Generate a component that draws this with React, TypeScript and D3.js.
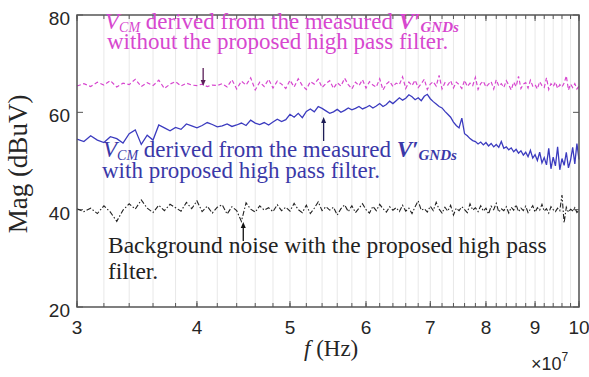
import * as d3 from 'd3'

// frequency axis in units of 1e7 Hz, samples every 0.05e7
const F_START = 3
const F_STEP = 0.05
const xTicks = [3, 4, 5, 6, 7, 8, 9, 10]
const yTicks = [20, 40, 60, 80]

// V_CM with the proposed high pass filter (blue, solid)
const withFilter = [
  54.5, 54.0, 55.2, 54.3, 53.8, 55.0, 54.6, 53.7, 55.6, 56.4,
  53.4, 55.3, 54.3, 57.4, 56.8, 56.2, 56.9, 56.5, 57.6, 57.2,
  56.8, 57.3, 57.9, 57.5, 57.0, 57.2, 57.6, 57.1, 57.4, 57.8,
  57.3, 58.4, 57.8, 57.5, 57.9, 57.4, 58.0, 58.6, 58.1, 58.5,
  59.6, 59.0, 59.8, 58.9, 60.2, 60.7, 60.1, 61.2, 60.8, 60.3,
  59.8, 60.1, 60.6, 60.0, 60.4, 60.9, 60.5, 60.8, 61.2, 60.7,
  61.0, 61.4, 60.9, 61.3, 61.8, 61.2, 61.6, 62.3, 61.8, 62.4,
  63.0, 62.5, 62.9, 63.6, 63.2, 62.6, 63.0, 62.4, 63.3, 63.7,
  62.8, 62.2, 61.7, 61.2, 60.9, 60.2, 59.6, 59.0, 58.0, 57.3,
  56.8, 58.8, 55.6, 55.2, 54.6, 54.2, 54.0, 53.5, 53.9, 53.3,
  53.8, 53.1, 53.6, 52.9, 53.4, 52.8, 54.0, 52.6, 52.9, 52.3,
  52.7, 51.9, 52.4, 51.6, 52.1, 51.2, 51.8, 50.9, 52.2, 50.6,
  51.3, 50.1, 51.8, 49.6, 50.7, 49.2, 52.6, 48.4, 50.8, 49.0,
  52.9, 48.2, 50.5, 49.1, 51.8, 48.6, 50.2, 52.8, 49.4, 53.6,
  50.3,
]

// V_CM without the filter (magenta, dashed)
const withoutFilter = [
  65.4, 65.9, 65.3, 66.2, 65.6, 66.5, 65.2, 66.0, 65.7, 66.8,
  65.3, 66.1, 65.5, 66.6, 64.9, 65.8, 66.3, 65.4, 66.0, 65.6,
  65.5, 65.8, 65.3, 65.6, 65.5, 65.9, 65.2, 66.7, 64.8, 66.4,
  65.6, 67.1, 64.6, 66.2, 65.3, 66.8, 65.0, 66.4, 65.8, 64.9,
  66.6, 65.2, 66.9, 65.5, 64.7, 66.3, 65.8, 66.8, 65.1, 65.9,
  66.5, 64.9, 66.1, 65.4, 67.0, 65.7, 64.8, 66.2, 65.5, 66.7,
  65.0, 66.3, 65.6, 65.2, 66.9, 64.6, 65.8, 66.4, 65.3, 66.0,
  65.7, 67.3, 64.9, 66.2, 65.5, 66.6, 65.1, 65.9, 66.8, 64.7,
  65.8, 66.3, 65.4, 67.6, 64.8, 66.1, 65.6, 66.5, 65.0, 66.2,
  65.7, 64.9, 66.6, 65.3, 66.0, 65.5, 67.2, 64.7, 65.9, 66.4,
  65.2, 65.8, 66.3, 64.8, 66.7, 65.4, 65.9, 65.1, 66.5, 65.6,
  64.6, 66.2, 65.3, 67.4, 64.9, 65.8, 66.1, 65.0, 66.6, 65.4,
  65.7, 64.8, 66.3, 65.5, 65.1, 67.1, 64.7, 65.9, 65.3, 66.2,
  64.9, 65.7, 65.2, 66.0, 67.5, 64.6, 65.8, 65.1, 65.9, 64.8,
  65.4,
]

// background noise with the filter (black, dash-dot)
const noise = [
  40.2, 39.6, 40.3, 39.2, 40.8, 39.5, 37.6, 39.9, 41.2, 40.1,
  42.0, 40.3, 39.4, 40.9, 39.8, 41.1, 40.4, 39.7, 41.5, 40.2,
  41.8, 39.6, 40.7, 39.3, 40.5, 41.0, 39.1, 40.6, 39.8, 37.6,
  41.4, 40.1, 39.5, 40.8, 39.9, 40.4, 39.6, 41.0, 39.8, 40.5,
  39.7, 41.3, 40.0, 39.4, 40.9, 39.2, 40.3, 41.6, 39.8, 40.6,
  39.9, 40.5, 38.9, 40.2, 41.0, 39.6, 40.8, 39.4, 40.3, 41.2,
  40.0, 39.3, 40.7, 39.8, 41.1, 40.2, 39.5, 40.6, 39.9, 40.4,
  39.6, 40.9, 39.7, 40.3, 39.2, 40.6, 41.8, 39.9, 40.2, 39.5,
  40.7, 39.8, 41.5, 40.1, 39.3, 40.5, 39.7, 40.9, 38.9, 40.3,
  39.8, 40.6, 40.0, 39.4, 41.2, 39.9, 40.4, 39.6, 40.8, 39.7,
  40.3, 39.1, 40.7, 40.0, 41.3, 39.5, 40.2, 39.8, 40.6, 39.3,
  40.5, 39.9, 41.0, 39.6, 40.3, 39.8, 40.7, 39.4, 40.1, 40.8,
  39.5, 40.4, 39.9, 41.1, 39.7, 40.2, 39.3, 40.6, 40.0, 39.6,
  40.3, 39.8, 43.0, 37.3, 40.5, 39.5, 40.1, 39.8, 40.4, 39.4,
  39.9,
]

const W = 589
const H = 377
const M = { left: 77, right: 579, top: 15, bottom: 307 }

const MAGENTA = '#d747cf'
const BLUE = '#3b3bbf'
const BLUE_TXT = '#3a38a8'
const SERIF = '"Liberation Serif", "DejaVu Serif", serif'
const SANS = '"Liberation Sans", Arial, sans-serif'

// two-line curve label: "V_CM derived from the measured V'_GNDs" + second line
function VcmLabel({ tx, ty, x2, gap, second }: { tx: number; ty: number; x2: number; gap: number; second: string }) {
  return (
    <text x={tx} y={ty}>
      <tspan fontStyle="italic">V</tspan>
      <tspan fontStyle="italic" fontSize={14} dy={3}>CM</tspan>
      <tspan dy={-3}> derived from the measured </tspan>
      <tspan fontStyle="italic" fontWeight="bold">V′</tspan>
      <tspan fontStyle="italic" fontWeight="bold" fontSize={15} dy={3}>GNDs</tspan>
      <tspan x={x2} dy={gap - 3}>{second}</tspan>
    </text>
  )
}

function Arrow({ ax, y1, y2, color }: { ax: number; y1: number; y2: number; color: string }) {
  const dir = y2 > y1 ? 1 : -1
  return (
    <g stroke={color} fill={color}>
      <line x1={ax} x2={ax} y1={y1} y2={y2 - dir * 4} strokeWidth={1.3} />
      <path d={`M${ax - 2.5},${y2 - dir * 6}L${ax + 2.5},${y2 - dir * 6}L${ax},${y2}Z`} stroke="none" />
    </g>
  )
}

export default function App() {
  const x = d3.scaleLog().domain([3, 10]).range([M.left, M.right])
  const y = d3.scaleLinear().domain([20, 80]).range([M.bottom, M.top])
  const line = d3.line<number>()
    .x((_, i) => x(F_START + i * F_STEP))
    .y(d => y(d))

  const minor = d3.range(3, 10.001, 0.2)

  return (
    <svg width={W} height={H} style={{ position: 'absolute', left: 0, top: 0, background: '#fff' }}>
      {/* grid */}
      {minor.map(f => (
        <line key={'g' + f} x1={x(f)} x2={x(f)} y1={M.top} y2={M.bottom} stroke="#e8e8e8" strokeWidth={1} />
      ))}
      {/* ticks */}
      {minor.map(f => (
        <g key={'t' + f} stroke="#555" strokeWidth={1}>
          <line x1={x(f)} x2={x(f)} y1={M.bottom} y2={M.bottom - 4} />
          <line x1={x(f)} x2={x(f)} y1={M.top} y2={M.top + 4} />
        </g>
      ))}
      {xTicks.map(f => (
        <g key={'xt' + f} stroke="#555" strokeWidth={1}>
          <line x1={x(f)} x2={x(f)} y1={M.bottom} y2={M.bottom - 6} />
          <line x1={x(f)} x2={x(f)} y1={M.top} y2={M.top + 6} />
        </g>
      ))}
      {yTicks.map(v => (
        <g key={'yt' + v} stroke="#555" strokeWidth={1}>
          <line x1={M.left} x2={M.left + 6} y1={y(v)} y2={y(v)} />
          <line x1={M.right} x2={M.right - 6} y1={y(v)} y2={y(v)} />
        </g>
      ))}

      {/* series */}
      <path d={line(withoutFilter) ?? ''} fill="none" stroke={MAGENTA} strokeWidth={1.2} strokeDasharray="4,2.5" />
      <path d={line(withFilter) ?? ''} fill="none" stroke={BLUE} strokeWidth={1.3} />
      <path d={line(noise) ?? ''} fill="none" stroke="#222" strokeWidth={1.1} strokeDasharray="5,2,1.5,2" />

      {/* frame */}
      <rect x={M.left} y={M.top} width={M.right - M.left} height={M.bottom - M.top} fill="none" stroke="#555" strokeWidth={1.5} />

      {/* tick labels */}
      {xTicks.map(f => (
        <text key={'xl' + f} x={x(f)} y={334} textAnchor="middle" fontFamily={SANS} fontSize={19} fill="#262626">{f}</text>
      ))}
      {yTicks.map(v => (
        <text key={'yl' + v} x={70} y={y(v) + 10} textAnchor="end" fontFamily={SANS} fontSize={19} fill="#262626">{v}</text>
      ))}

      {/* axis titles */}
      <text x={304} y={356} fontFamily={SERIF} fontSize={23} fill="#262626">
        <tspan fontStyle="italic">f</tspan>
        <tspan> (Hz)</tspan>
      </text>
      <text x={531} y={370} fontFamily={SANS} fontSize={18} fill="#262626">
        ×10<tspan fontSize={12} dy={-9}>7</tspan>
      </text>
      <text transform="translate(27,164) rotate(-90)" textAnchor="middle" fontFamily={SERIF} fontSize={27} fill="#262626">Mag (dBuV)</text>

      {/* annotations */}
      <g fontFamily={SERIF} fontSize={23} fill={MAGENTA}>
        <VcmLabel tx={105} ty={29} x2={107} gap={20} second="without the proposed high pass filter." />
      </g>
      <Arrow ax={x(4.06)} y1={68} y2={86} color="#5a1f58" />

      <g fontFamily={SERIF} fontSize={23} fill={BLUE_TXT}>
        <VcmLabel tx={103} ty={157} x2={102} gap={21} second="with proposed high pass filter." />
      </g>
      <Arrow ax={x(5.42)} y1={141} y2={117} color="#1d1d55" />

      <text x={108} y={253} fontFamily={SERIF} fontSize={23.5} fill="#222">
        Background noise with the proposed high pass
        <tspan x={108} dy={26}>filter.</tspan>
      </text>
      <Arrow ax={x(4.47)} y1={241} y2={222} color="#111" />
    </svg>
  )
}
